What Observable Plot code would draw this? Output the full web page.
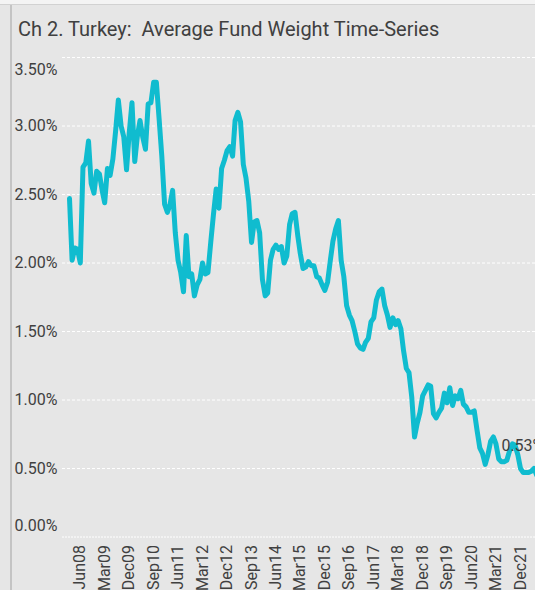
<!DOCTYPE html>
<html><head><meta charset="utf-8">
<script src="https://cdn.jsdelivr.net/npm/d3@7"></script>
<script src="https://cdn.jsdelivr.net/npm/@observablehq/plot@0.6"></script>
<style>
html,body{margin:0;padding:0;width:535px;height:590px;overflow:hidden;background:#e6e6e6;}
#topband{position:absolute;left:0;top:0;width:535px;height:4px;background:#f4f4f4;border-bottom:1px solid #d2d2d2;}
#leftbar{position:absolute;left:10px;top:5px;width:2px;height:585px;background:#c4c4c4;}
#title{position:absolute;left:18px;top:17px;font:20px Roboto, sans-serif;color:#404040;white-space:pre;}
#chart{position:absolute;left:0;top:0;width:560px;height:590px;}
#chart svg{max-width:none !important;}
</style></head>
<body>
<div id="topband"></div>
<div id="leftbar"></div>
<div id="title"></div>
<div id="chart"></div>
<script>
const titleText = "Ch 2. Turkey:  Average Fund Weight Time-Series";
const firstMonth = "2008-02"; // monthly series start
const weights = [
 2.47,2.02,2.11,2.10,2.00,2.70,2.73,2.89,2.58,2.51,
 2.67,2.65,2.53,2.44,2.69,2.64,2.76,2.96,3.19,3.00,
 2.92,2.68,2.95,3.17,2.74,2.92,3.04,2.92,2.83,3.16,
 3.17,3.32,3.32,3.05,2.78,2.43,2.37,2.42,2.53,2.22,
 2.02,1.93,1.79,2.20,1.90,1.92,1.76,1.84,1.88,2.00,
 1.92,1.93,2.15,2.35,2.54,2.40,2.69,2.75,2.82,2.85,
 2.78,3.04,3.10,3.03,2.72,2.62,2.45,2.15,2.30,2.31,
 2.22,1.88,1.76,1.78,2.02,2.10,2.13,2.10,2.12,2.00,
 2.05,2.28,2.36,2.37,2.20,2.07,1.96,1.97,2.01,1.98,
 1.98,1.90,1.89,1.84,1.80,1.86,2.02,2.16,2.25,2.31,
 2.02,1.90,1.69,1.62,1.58,1.50,1.41,1.38,1.37,1.42,
 1.45,1.57,1.60,1.73,1.79,1.81,1.69,1.62,1.53,1.60,
 1.55,1.58,1.52,1.36,1.23,1.20,1.02,0.73,0.83,0.91,
 1.03,1.07,1.11,1.10,0.90,0.87,0.91,0.94,1.05,0.98,
 1.09,0.96,1.03,1.01,1.07,0.97,0.95,0.91,0.91,0.92,
 0.78,0.65,0.61,0.53,0.60,0.70,0.73,0.68,0.57,0.55,
 0.55,0.56,0.63,0.68,0.67,0.60,0.50,0.47,0.47,0.47,
 0.48,0.50,0.45,0.53
];
const xTickLabels = ["Jun08","Mar09","Dec09","Sep10","Jun11","Mar12","Dec12","Sep13","Jun14","Mar15","Dec15","Sep16","Jun17","Mar18","Dec18","Sep19","Jun20","Mar21","Dec21"];
const yTicks = [0, 0.5, 1.0, 1.5, 2.0, 2.5, 3.0, 3.5];
const annotationLabels = ["0.53%"];
const annotationDates = ["2021-05"];
const annotationValues = [0.663];

document.getElementById("title").textContent = titleText;

const parseMonth = d3.utcParse("%Y-%m");
const parseTick = d3.utcParse("%b%y");
const start = parseMonth(firstMonth);
const data = weights.map((v, i) => ({date: d3.utcMonth.offset(start, i), value: v}));
const tickDates = xTickLabels.map(parseTick);
const notes = annotationLabels.map((t, i) => ({date: parseMonth(annotationDates[i]), value: annotationValues[i], label: t}));
const fmt = d => d.toFixed(2) + "%";
const axisStyle = {tickSize: 0, tickPadding: 5, tickFormat: fmt, label: null, fontSize: 16, fill: "#404040"};

const chart = Plot.plot({
  width: 560, height: 590,
  marginLeft: 62, marginRight: 0, marginTop: 57, marginBottom: 53.5,
  style: {background: "transparent", fontFamily: "Roboto, sans-serif", fontSize: "15px", color: "#404040", overflow: "visible", maxWidth: "none"},
  x: {type: "utc", domain: [start, tickDates[tickDates.length - 1]], range: [69, 520], label: null},
  y: {domain: [0, 3.5], label: null},
  marks: [
    Plot.gridY(yTicks.filter(t => t > 0), {stroke: "#ffffff", strokeOpacity: 1, strokeDasharray: "3,2"}),
    Plot.ruleY([0], {stroke: "#ffffff", strokeDasharray: "2,1"}),
    Plot.axisY(yTicks.filter(t => t > 0 && t < 3.5), axisStyle),
    Plot.axisY([3.5], {...axisStyle, dy: 12}),
    Plot.axisY([0], {...axisStyle, dy: -11}),
    Plot.axisX(tickDates, {tickSize: 0, tickPadding: 8, tickRotate: -90, tickFormat: d3.utcFormat("%b%y"), label: null, fontSize: 16, fill: "#404040"}),
    Plot.lineY(data, {x: "date", y: "value", stroke: "#10bccf", strokeWidth: 5, strokeLinejoin: "round", strokeLinecap: "round"}),
    Plot.text(notes, {x: "date", y: "value", text: "label", textAnchor: "start", fontSize: 16, fill: "#404040"})
  ]
});
chart.style.maxWidth = "none";
document.getElementById("chart").appendChild(chart);
</script>
</body></html>
